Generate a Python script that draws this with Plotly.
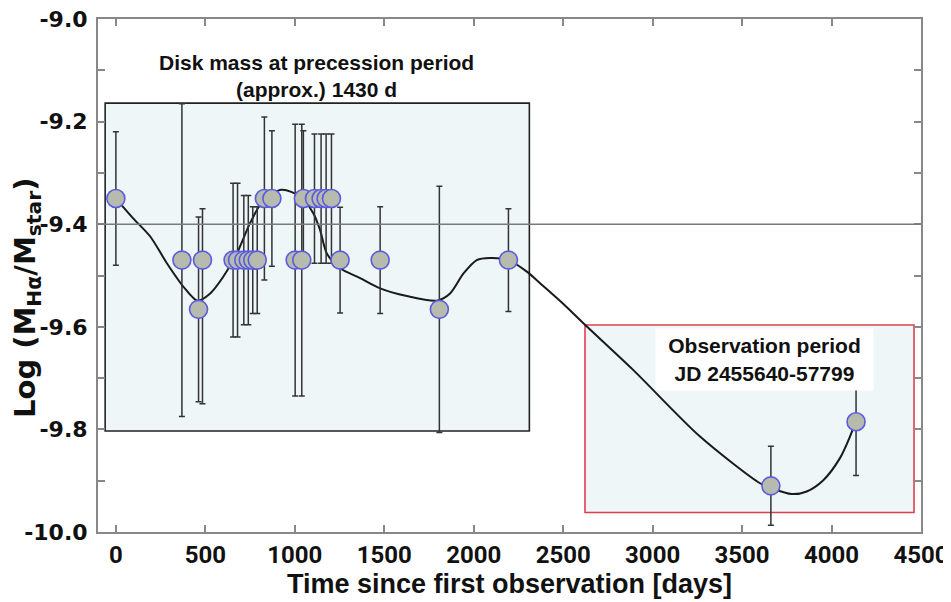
import plotly.graph_objects as go

# ---- data ----
days = [0, 369, 462, 484, 655, 680, 715, 740, 765, 790, 830, 872, 1002, 1039,
        1048, 1110, 1147, 1175, 1205, 1253, 1477, 1808, 2194, 3661, 4137]
log_mass = [-9.35, -9.47, -9.566, -9.47, -9.47, -9.47, -9.47, -9.47, -9.47, -9.47,
            -9.35, -9.35, -9.47, -9.47, -9.35, -9.35, -9.35, -9.35, -9.35, -9.47,
            -9.47, -9.566, -9.47, -9.91, -9.785]
err_plus = [0.13, 0.305, 0.18, 0.10, 0.15, 0.15, 0.126, 0.126, 0.104, 0.104,
            0.159, 0.132, 0.265, 0.265, 0.132, 0.126, 0.126, 0.126, 0.126, 0.103,
            0.104, 0.24, 0.10, 0.077, 0.105]
err_minus = [0.13, 0.305, 0.18, 0.28, 0.15, 0.15, 0.126, 0.126, 0.104, 0.104,
             0.159, 0.132, 0.265, 0.265, 0.132, 0.126, 0.126, 0.126, 0.126, 0.103,
             0.104, 0.24, 0.10, 0.077, 0.105]

fit_days = [0, 98, 192, 285, 378, 456, 527, 601, 676, 750, 825, 927, 1030, 1104,
            1141, 1179, 1253, 1365, 1477, 1626, 1794, 1868, 1943, 2017, 2091, 2194,
            2297, 2371, 2500, 2622, 2891, 3265, 3600, 3661, 3777, 3861, 3954, 4047,
            4103, 4137]
fit_mass = [-9.35, -9.389, -9.424, -9.476, -9.522, -9.549, -9.535, -9.502, -9.457,
            -9.398, -9.353, -9.333, -9.346, -9.379, -9.411, -9.457, -9.486, -9.505,
            -9.525, -9.540, -9.549, -9.535, -9.496, -9.470, -9.466, -9.47, -9.4925,
            -9.515, -9.555, -9.596, -9.684, -9.814, -9.905, -9.914, -9.926, -9.921,
            -9.899, -9.856, -9.814, -9.782]

reference_level = -9.4
disk_box_x = [-60, 2311]
disk_box_y = [-9.803, -9.164]
obs_box_x = [2622, 4461]
obs_box_y = [-9.962, -9.5965]

x_range = [-100, 4500]
x_ticks = [0, 500, 1000, 1500, 2000, 2500, 3000, 3500, 4000, 4500]
y_ticks = [-10.0, -9.8, -9.6, -9.4, -9.2, -9.0]
y_tick_text = ["-10.0", "-9.8", "-9.6", "-9.4", "-9.2", "-9.0"]

# figure geometry (page body adds an 8 px offset)
FIG_W, FIG_H = 943, 594
M_L, M_R, M_T, M_B = 90, 30, 11, 70
plot_w = FIG_W - M_L - M_R
plot_h = FIG_H - M_T - M_B

fig = go.Figure()

fig.add_trace(go.Scatter(
    x=fit_days, y=fit_mass, mode="lines",
    line=dict(color="#1a1a1a", width=2, shape="spline", smoothing=0.8),
    hoverinfo="skip", showlegend=False))

fig.add_trace(go.Scatter(
    x=days, y=log_mass, mode="markers",
    marker=dict(size=18, color="#b7bbae", line=dict(color="#5b5be0", width=1.6)),
    error_y=dict(type="data", array=err_plus, arrayminus=err_minus,
                 color="#333333", thickness=1.5, width=3),
    showlegend=False))

# boxes and reference line
fig.add_shape(type="rect", xref="x", yref="y",
              x0=disk_box_x[0], x1=disk_box_x[1], y0=disk_box_y[0], y1=disk_box_y[1],
              fillcolor="#eef6f8", line=dict(color="#222222", width=1.6), layer="below")
fig.add_shape(type="rect", xref="x", yref="y",
              x0=obs_box_x[0], x1=obs_box_x[1], y0=obs_box_y[0], y1=obs_box_y[1],
              fillcolor="#eef6f8", line=dict(color="#e0404e", width=1.6), layer="below")
fig.add_shape(type="line", xref="x", yref="y", x0=x_range[0], x1=x_range[1],
              y0=reference_level, y1=reference_level,
              line=dict(color="#7a7a7a", width=1.5), layer="above")

fig.add_annotation(x=1123, y=-9.111, xref="x", yref="y",
                   text="Disk mass at precession period<br>(approx.) 1430 d",
                   showarrow=False,
                   font=dict(family="Liberation Sans", size=21, color="#111111", weight="bold"))
fig.add_annotation(x=3627, y=-9.664, xref="x", yref="y",
                   text="Observation period<br>JD 2455640-57799",
                   showarrow=False, bgcolor="white", width=215, height=59,
                   font=dict(family="Liberation Sans", size=21, color="#111111", weight="bold"))
# rotated y-axis title, centred at (19 px, 290 px) of the figure
fig.add_annotation(x=(19 - M_L) / plot_w, y=(FIG_H - M_B - 290) / plot_h,
                   xref="paper", yref="paper", xanchor="center", yanchor="middle",
                   text="Log (M<sub>Hα</sub>/M<sub>star</sub>)", textangle=-90, showarrow=False,
                   font=dict(family="DejaVu Sans", size=29, color="#111111", weight="bold"))

fig.update_layout(
    width=FIG_W, height=FIG_H,
    margin=dict(l=M_L, r=M_R, t=M_T, b=M_B),
    paper_bgcolor="white", plot_bgcolor="white",
    xaxis=dict(range=x_range, tickvals=x_ticks, ticks="inside", ticklen=7,
               tickcolor="#888888", tickwidth=1.5, automargin=False,
               ticklabeloverflow="allow",
               showline=True, linecolor="#888888", linewidth=2, mirror="ticks",
               showgrid=False, zeroline=False,
               tickfont=dict(family="Roboto", size=24, color="#111111", weight="bold"),
               title=dict(text="Time since first observation [days]", standoff=4,
                          font=dict(family="Liberation Sans", size=27, color="#111111", weight="bold"))),
    yaxis=dict(range=[-10, -9], tickvals=y_ticks, ticktext=y_tick_text,
               ticks="inside", ticklen=7, tickcolor="#888888", tickwidth=1.5,
               automargin=False, ticklabeloverflow="allow", ticklabelstandoff=4,
               minor=dict(dtick=0.1, tick0=-10, ticks="inside", ticklen=7, tickcolor="#888888"),
               showline=True, linecolor="#888888", linewidth=2, mirror="ticks",
               showgrid=False, zeroline=False,
               tickfont=dict(family="DejaVu Sans", size=22, color="#111111", weight="bold")),
)

fig.write_html("out.html")
